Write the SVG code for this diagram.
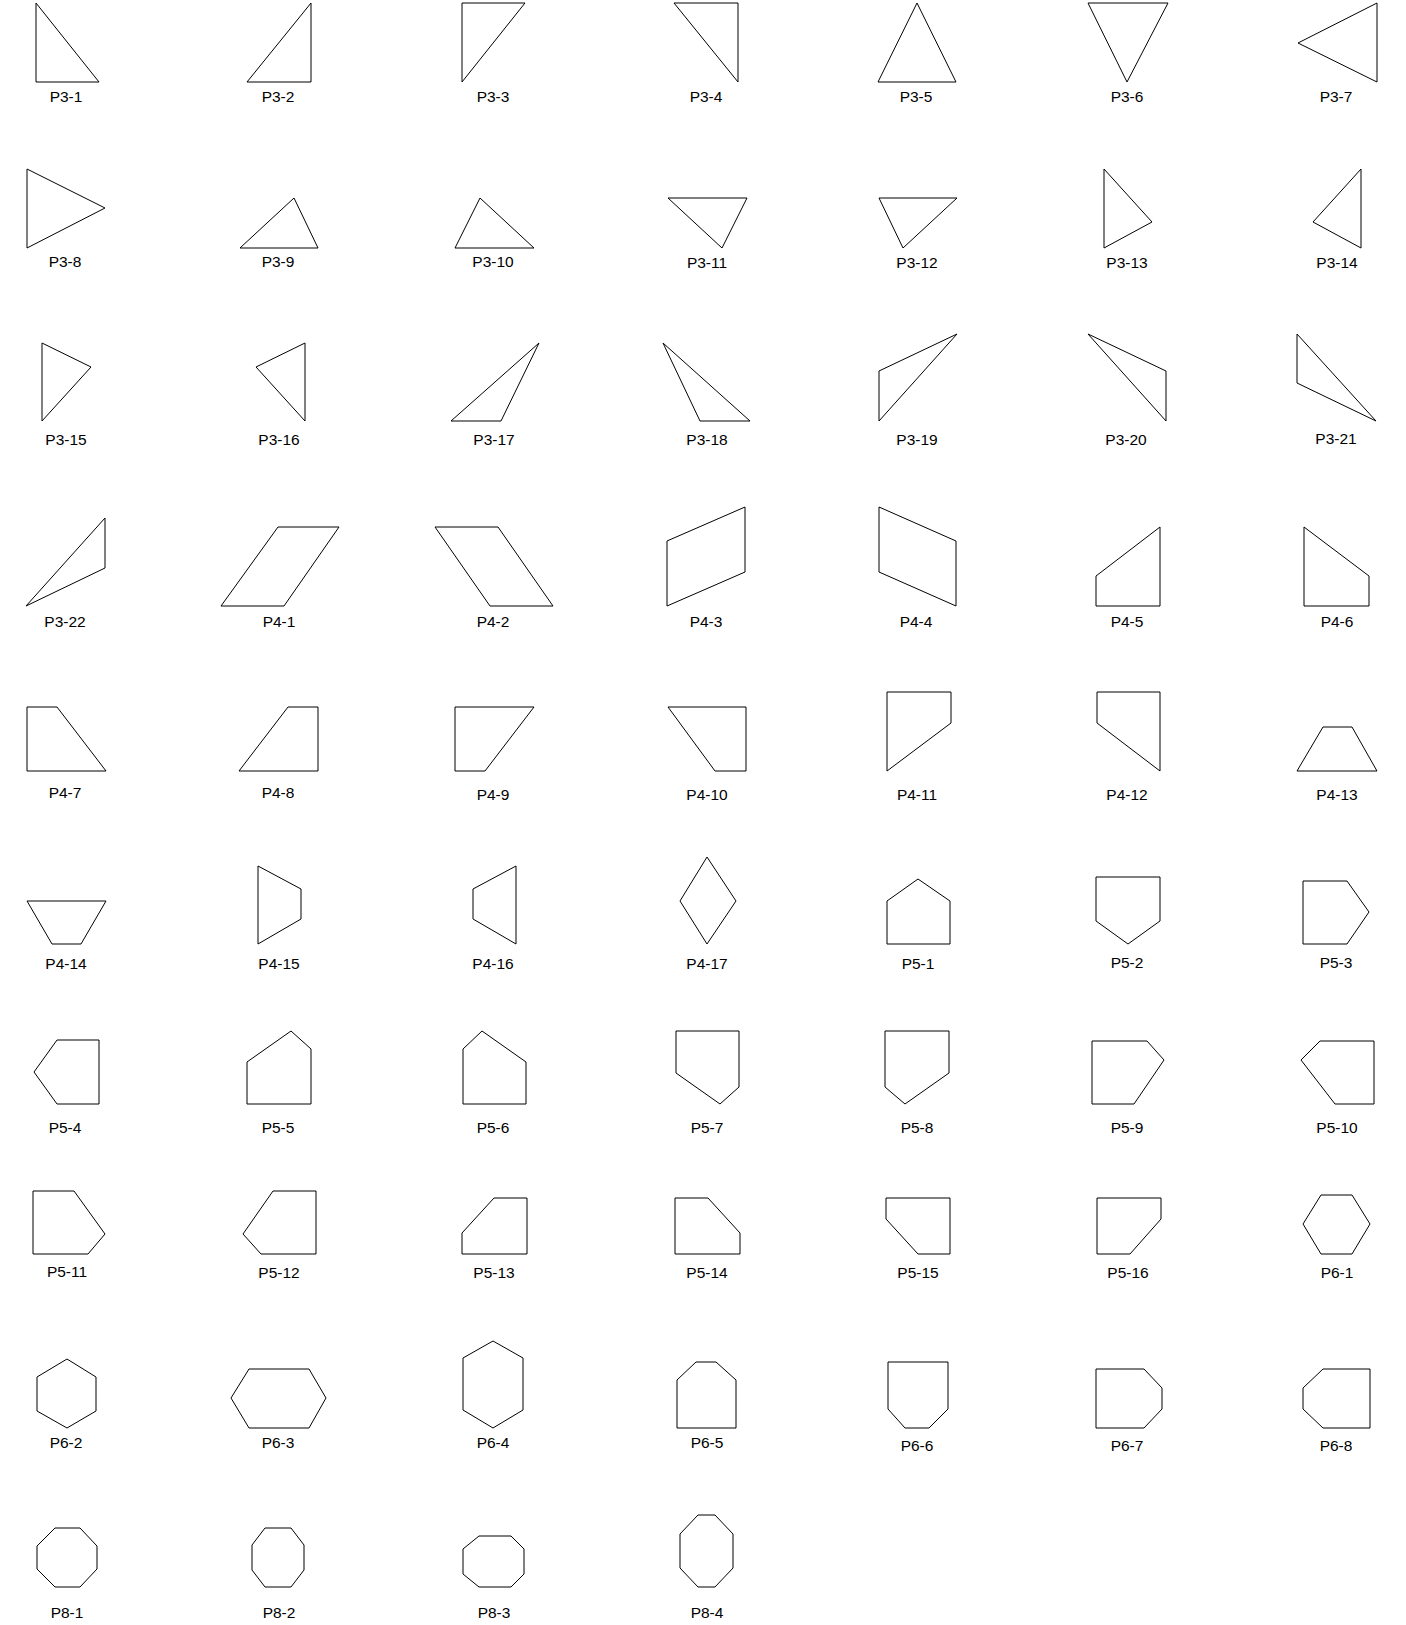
<svg xmlns="http://www.w3.org/2000/svg" width="1406" height="1625" viewBox="0 0 1406 1625">
<style>
polygon{fill:none;stroke:#000;stroke-width:1;stroke-linejoin:miter}
text{font-family:"Liberation Sans",Arial,sans-serif;font-size:15.5px;fill:#000;text-anchor:middle}
</style>
<rect width="1406" height="1625" fill="#fff"/>
<!-- Row 1 -->
<g id="P3-1"><polygon points="36,3 36,82 99,82"/><text x="66" y="102">P3-1</text></g>
<g id="P3-2"><polygon points="311,3 247,82 311,82"/><text x="278" y="102">P3-2</text></g>
<g id="P3-3"><polygon points="462,3 525,3 462,82"/><text x="493" y="102">P3-3</text></g>
<g id="P3-4"><polygon points="674,3 738,3 738,82"/><text x="706" y="102">P3-4</text></g>
<g id="P3-5"><polygon points="917,3 878,82 956,82"/><text x="916" y="102">P3-5</text></g>
<g id="P3-6"><polygon points="1088,3 1168,3 1127,82"/><text x="1127" y="102">P3-6</text></g>
<g id="P3-7"><polygon points="1377,3 1298,43 1377,82"/><text x="1336" y="102">P3-7</text></g>
<!-- Row 2 -->
<g id="P3-8"><polygon points="27,169 105,208 27,248"/><text x="65" y="267">P3-8</text></g>
<g id="P3-9"><polygon points="294,198 240,248 318,248"/><text x="278" y="267">P3-9</text></g>
<g id="P3-10"><polygon points="480,198 455,248 534,248"/><text x="493" y="267">P3-10</text></g>
<g id="P3-11"><polygon points="668,198 747,198 722,248"/><text x="707" y="268">P3-11</text></g>
<g id="P3-12"><polygon points="879,198 957,198 903,248"/><text x="917" y="268">P3-12</text></g>
<g id="P3-13"><polygon points="1104,169 1152,222 1104,248"/><text x="1127" y="268">P3-13</text></g>
<g id="P3-14"><polygon points="1361,169 1313,222 1361,248"/><text x="1337" y="268">P3-14</text></g>
<!-- Row 3 -->
<g id="P3-15"><polygon points="42,343 91,367 42,421"/><text x="66" y="445">P3-15</text></g>
<g id="P3-16"><polygon points="305,343 256,367 305,421"/><text x="279" y="445">P3-16</text></g>
<g id="P3-17"><polygon points="539,343 451,421 501,421"/><text x="494" y="445">P3-17</text></g>
<g id="P3-18"><polygon points="663,343 700,421 750,421"/><text x="707" y="445">P3-18</text></g>
<g id="P3-19"><polygon points="957,334 879,371 879,421"/><text x="917" y="445">P3-19</text></g>
<g id="P3-20"><polygon points="1088,334 1166,371 1166,421"/><text x="1126" y="445">P3-20</text></g>
<g id="P3-21"><polygon points="1297,334 1297,383 1376,421"/><text x="1336" y="444">P3-21</text></g>
<!-- Row 4 -->
<g id="P3-22"><polygon points="105,518 105,568 26,606"/><text x="65" y="627">P3-22</text></g>
<g id="P4-1"><polygon points="278,527 339,527 284,606 221,606"/><text x="279" y="627">P4-1</text></g>
<g id="P4-2"><polygon points="435,527 498,527 553,606 490,606"/><text x="493" y="627">P4-2</text></g>
<g id="P4-3"><polygon points="745,507 745,572 667,606 667,541"/><text x="706" y="627">P4-3</text></g>
<g id="P4-4"><polygon points="879,507 956,541 956,606 879,572"/><text x="916" y="627">P4-4</text></g>
<g id="P4-5"><polygon points="1160,527 1160,606 1096,606 1096,576"/><text x="1127" y="627">P4-5</text></g>
<g id="P4-6"><polygon points="1304,527 1369,576 1369,606 1304,606"/><text x="1337" y="627">P4-6</text></g>
<!-- Row 5 -->
<g id="P4-7"><polygon points="27,707 57,707 106,771 27,771"/><text x="65" y="798">P4-7</text></g>
<g id="P4-8"><polygon points="288,707 318,707 318,771 239,771"/><text x="278" y="798">P4-8</text></g>
<g id="P4-9"><polygon points="455,707 534,707 485,771 455,771"/><text x="493" y="800">P4-9</text></g>
<g id="P4-10"><polygon points="668,707 746,707 746,771 715,771"/><text x="707" y="800">P4-10</text></g>
<g id="P4-11"><polygon points="887,692 951,692 951,723 887,771"/><text x="917" y="800">P4-11</text></g>
<g id="P4-12"><polygon points="1097,692 1160,692 1160,771 1097,723"/><text x="1127" y="800">P4-12</text></g>
<g id="P4-13"><polygon points="1323,727 1352,727 1377,771 1297,771"/><text x="1337" y="800">P4-13</text></g>
<!-- Row 6 -->
<g id="P4-14"><polygon points="27,901 106,901 81,944 52,944"/><text x="66" y="969">P4-14</text></g>
<g id="P4-15"><polygon points="258,866 301,889 301,919 258,944"/><text x="279" y="969">P4-15</text></g>
<g id="P4-16"><polygon points="516,866 516,944 473,919 473,889"/><text x="493" y="969">P4-16</text></g>
<g id="P4-17"><polygon points="707,857 736,901 707,944 680,901"/><text x="707" y="969">P4-17</text></g>
<g id="P5-1"><polygon points="918,879 950,901 950,944 887,944 887,901"/><text x="918" y="969">P5-1</text></g>
<g id="P5-2"><polygon points="1096,877 1160,877 1160,921 1128,944 1096,921"/><text x="1127" y="968">P5-2</text></g>
<g id="P5-3"><polygon points="1303,881 1347,881 1369,912 1347,944 1303,944"/><text x="1336" y="968">P5-3</text></g>
<!-- Row 7 -->
<g id="P5-4"><polygon points="57,1040 99,1040 99,1104 57,1104 34,1072"/><text x="65" y="1133">P5-4</text></g>
<g id="P5-5"><polygon points="291,1031 311,1049 311,1104 247,1104 247,1062"/><text x="278" y="1133">P5-5</text></g>
<g id="P5-6"><polygon points="482,1031 526,1062 526,1104 463,1104 463,1049"/><text x="493" y="1133">P5-6</text></g>
<g id="P5-7"><polygon points="676,1031 739,1031 739,1087 720,1104 676,1073"/><text x="707" y="1133">P5-7</text></g>
<g id="P5-8"><polygon points="885,1031 949,1031 949,1073 905,1104 885,1087"/><text x="917" y="1133">P5-8</text></g>
<g id="P5-9"><polygon points="1092,1041 1147,1041 1164,1060 1134,1104 1092,1104"/><text x="1127" y="1133">P5-9</text></g>
<g id="P5-10"><polygon points="1320,1041 1374,1041 1374,1104 1335,1104 1301,1060"/><text x="1337" y="1133">P5-10</text></g>
<!-- Row 8 -->
<g id="P5-11"><polygon points="33,1191 74,1191 105,1234 88,1254 33,1254"/><text x="67" y="1277">P5-11</text></g>
<g id="P5-12"><polygon points="273,1191 316,1191 316,1254 261,1254 243,1234"/><text x="279" y="1278">P5-12</text></g>
<g id="P5-13"><polygon points="494,1198 527,1198 527,1254 462,1254 462,1233"/><text x="494" y="1278">P5-13</text></g>
<g id="P5-14"><polygon points="675,1198 708,1198 740,1233 740,1254 675,1254"/><text x="707" y="1278">P5-14</text></g>
<g id="P5-15"><polygon points="886,1198 950,1198 950,1254 918,1254 886,1219"/><text x="918" y="1278">P5-15</text></g>
<g id="P5-16"><polygon points="1097,1198 1161,1198 1161,1219 1130,1254 1097,1254"/><text x="1128" y="1278">P5-16</text></g>
<g id="P6-1"><polygon points="1321,1195 1352,1195 1370,1224 1352,1254 1321,1254 1303,1224"/><text x="1337" y="1278">P6-1</text></g>
<!-- Row 9 -->
<g id="P6-2"><polygon points="67,1359 96,1377 96,1411 67,1428 37,1411 37,1377"/><text x="66" y="1448">P6-2</text></g>
<g id="P6-3"><polygon points="249,1369 309,1369 326,1398 309,1428 249,1428 231,1398"/><text x="278" y="1448">P6-3</text></g>
<g id="P6-4"><polygon points="493,1341 523,1358 523,1410 493,1428 463,1410 463,1358"/><text x="493" y="1448">P6-4</text></g>
<g id="P6-5"><polygon points="696,1362 716,1362 736,1380 736,1428 677,1428 677,1380"/><text x="707" y="1448">P6-5</text></g>
<g id="P6-6"><polygon points="888,1362 948,1362 948,1409 929,1428 905,1428 888,1409"/><text x="917" y="1451">P6-6</text></g>
<g id="P6-7"><polygon points="1096,1369 1144,1369 1162,1388 1162,1409 1144,1428 1096,1428"/><text x="1127" y="1451">P6-7</text></g>
<g id="P6-8"><polygon points="1323,1369 1370,1369 1370,1428 1323,1428 1303,1409 1303,1388"/><text x="1336" y="1451">P6-8</text></g>
<!-- Row 10 -->
<g id="P8-1"><polygon points="55,1528 80,1528 97,1546 97,1569 80,1587 55,1587 37,1569 37,1546"/><text x="67" y="1618">P8-1</text></g>
<g id="P8-2"><polygon points="265,1528 291,1528 304,1545 304,1570 291,1587 265,1587 252,1570 252,1545"/><text x="279" y="1618">P8-2</text></g>
<g id="P8-3"><polygon points="479,1536 511,1536 524,1549 524,1574 511,1587 479,1587 463,1574 463,1549"/><text x="494" y="1618">P8-3</text></g>
<g id="P8-4"><polygon points="698,1515 715,1515 733,1534 733,1568 715,1587 698,1587 680,1568 680,1534"/><text x="707" y="1618">P8-4</text></g>
</svg>
